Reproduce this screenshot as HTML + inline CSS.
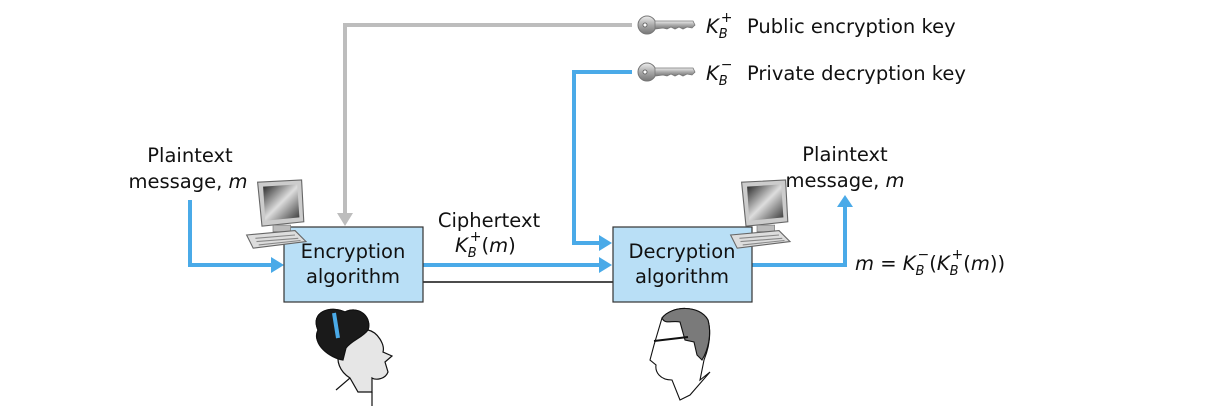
<!DOCTYPE html>
<html><head><meta charset="utf-8"><style>
html,body{margin:0;padding:0;background:#fff}
svg{display:block}
text{font-family:"DejaVu Sans","Liberation Sans",sans-serif;fill:#111}
.i{font-style:italic}
</style></head><body>
<svg width="1230" height="406" viewBox="0 0 1230 406" xmlns="http://www.w3.org/2000/svg">
<defs>
<linearGradient id="scr" x1="0" y1="0" x2="1" y2="1"><stop offset="0" stop-color="#222"/><stop offset=".5" stop-color="#ddd"/><stop offset="1" stop-color="#333"/></linearGradient>
<linearGradient id="kg" x1="0" y1="0" x2="0" y2="1"><stop offset="0" stop-color="#eee"/><stop offset=".5" stop-color="#aaa"/><stop offset="1" stop-color="#777"/></linearGradient>
<g id="pc">
<path d="M16 2 L56 0 L58 38 L20 42 Z" fill="#ccc" stroke="#666"/>
<path d="M21 6 L52 4 L54 34 L23 37 Z" fill="url(#scr)"/>
<rect x="30" y="41" width="16" height="6" fill="#bbb" stroke="#777" stroke-width=".6"/>
<path d="M6 50 L50 46 L60 56 L12 62 Z" fill="#ddd" stroke="#666"/>
<path d="M14 53 L50 50 M15 56 L53 53 M17 59 L55 55" stroke="#888" stroke-width="1"/>
</g>
<g id="keyshape">
<circle cx="10" cy="0" r="9" fill="url(#kg)" stroke="#777"/>
<circle cx="8" cy="0" r="2" fill="#fff" stroke="#555" stroke-width=".8"/>
<path d="M18 -4 L56 -4 L58 0 L55 3 L50 2 L46 4 L42 2 L38 4 L34 2 L30 4 L26 3 L18 4 Z" fill="url(#kg)" stroke="#777" stroke-width=".8"/>
</g>
</defs>

<polyline points="632,25 345,25 345,214" fill="none" stroke="#bdbdbd" stroke-width="4"/>
<polygon points="337,213 353,213 345,226" fill="#bdbdbd"/>

<polyline points="632,72 574,72 574,243 600,243" fill="none" stroke="#4aaae8" stroke-width="4"/>
<polygon points="599,235 612,243 599,251" fill="#4aaae8"/>

<polyline points="190,200 190,265 272,265" fill="none" stroke="#4aaae8" stroke-width="4"/>
<polygon points="271,257 284,265 271,273" fill="#4aaae8"/>

<line x1="423" y1="265" x2="600" y2="265" stroke="#4aaae8" stroke-width="4"/>
<polygon points="599,257 612,265 599,273" fill="#4aaae8"/>
<line x1="423" y1="282" x2="613" y2="282" stroke="#111" stroke-width="1.5"/>

<polyline points="752,265 845,265 845,206" fill="none" stroke="#4aaae8" stroke-width="4"/>
<polygon points="837,207 845,195 853,207" fill="#4aaae8"/>

<rect x="284" y="227" width="139" height="75" fill="#b9dff6" stroke="#333" stroke-width="1.2"/>
<rect x="613" y="227" width="139" height="75" fill="#b9dff6" stroke="#333" stroke-width="1.2"/>
<text x="353" y="258" font-size="19.5" text-anchor="middle">Encryption</text>
<text x="353" y="283" font-size="19.5" text-anchor="middle">algorithm</text>
<text x="682" y="258" font-size="19.5" text-anchor="middle">Decryption</text>
<text x="682" y="283" font-size="19.5" text-anchor="middle">algorithm</text>

<use href="#pc" transform="translate(240,180) scale(1.1)"/>
<use href="#pc" transform="translate(724,180) scale(1.1)"/>

<use href="#keyshape" x="637" y="25"/>
<use href="#keyshape" x="637" y="72"/>
<text x="706" y="33" font-size="19.5"><tspan class="i">K</tspan><tspan class="i" font-size="13" dy="5">B</tspan><tspan font-size="14" dy="-16" dx="-7">+</tspan></text>
<text x="747" y="33" font-size="19.5">Public encryption key</text>
<text x="706" y="80" font-size="19.5"><tspan class="i">K</tspan><tspan class="i" font-size="13" dy="5">B</tspan><tspan font-size="14" dy="-16" dx="-7">−</tspan></text>
<text x="747" y="80" font-size="19.5">Private decryption key</text>

<text x="190" y="162" font-size="19.5" text-anchor="middle">Plaintext</text>
<text x="188" y="188" font-size="19.5" text-anchor="middle">message, <tspan class="i">m</tspan></text>
<text x="489" y="227" font-size="19.5" text-anchor="middle">Ciphertext</text>
<text x="455" y="252" font-size="19.5"><tspan class="i">K</tspan><tspan class="i" font-size="13" dy="5">B</tspan><tspan font-size="14" dy="-16" dx="-7">+</tspan><tspan dy="11">(</tspan><tspan class="i">m</tspan>)</text>
<text x="845" y="161" font-size="19.5" text-anchor="middle">Plaintext</text>
<text x="845" y="187" font-size="19.5" text-anchor="middle">message, <tspan class="i">m</tspan></text>
<text x="855" y="270" font-size="19.5"><tspan class="i">m</tspan> = <tspan class="i">K</tspan><tspan class="i" font-size="13" dy="5">B</tspan><tspan font-size="14" dy="-16" dx="-7">−</tspan><tspan dy="11">(</tspan><tspan class="i">K</tspan><tspan class="i" font-size="13" dy="5">B</tspan><tspan font-size="14" dy="-16" dx="-7">+</tspan><tspan dy="11">(</tspan><tspan class="i">m</tspan>))</text>

<g stroke="#111" stroke-width="1.2">
<path d="M318 330 C310 312 330 305 345 312 C360 305 372 318 368 330 C378 332 385 345 383 352 L392 356 L385 362 L388 372 C385 380 375 380 372 378 L372 392 L358 392 L350 378 C340 372 335 360 340 352 C325 352 312 342 318 330 Z" fill="#e6e6e6"/>
<path d="M318 330 C310 312 330 305 345 312 C360 305 372 318 368 330 C362 338 352 340 346 348 L343 360 C330 358 312 345 318 330 Z" fill="#1a1a1a"/>
<path d="M334 313 L338 338" stroke="#4aaae8" stroke-width="4"/>
<path d="M350 378 L336 390 M372 392 L372 406" fill="none"/>
</g>
<g stroke="#111" stroke-width="1.1">
<path d="M662 318 C672 305 700 305 708 320 C712 335 708 350 704 360 L700 380 L710 372 L690 395 L680 400 L672 380 C660 380 655 372 656 365 L650 360 L654 345 Z" fill="#fff"/>
<path d="M662 318 C672 305 700 305 708 320 C712 335 708 350 702 360 L697 355 L694 342 L685 340 L680 322 C672 320 665 325 662 318 Z" fill="#7a7a7a"/>
<path d="M654 341 L688 337" stroke-width="2"/>
</g>
</svg>
</body></html>
